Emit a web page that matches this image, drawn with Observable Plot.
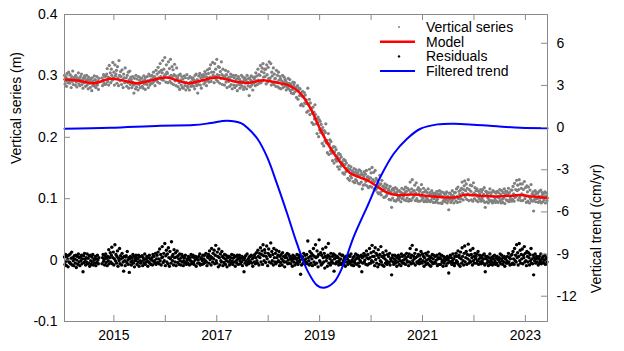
<!DOCTYPE html>
<html><head><meta charset="utf-8">
<script src="https://cdn.jsdelivr.net/npm/d3@7"></script>
<script src="https://cdn.jsdelivr.net/npm/@observablehq/plot@0.6"></script>
<style>
body{margin:0;background:#fff;}
#wrap{position:relative;width:624px;height:351px;font-family:"Liberation Sans",Arial,Helvetica,sans-serif;}
</style></head><body><div id="wrap"></div>
<script>
// ---- data ----
const seriesStart = 2014.04;   // decimal year of first sample
const seriesStep = 0.01;       // years between samples
// Vertical series (mm)
const verticalSeries = [
301,287,298,292,283,304,295,289,306,291,
288,302,295,281,299,291,308,286,296,293,
298,285,301,290,282,297,293,305,287,295,
284,299,291,303,286,294,280,297,289,300,
296,283,292,301,285,294,279,298,288,293,
281,295,289,276,297,284,292,287,300,283,
294,281,290,299,285,292,278,296,null,null,
null,null,null,297,284,293,302,288,299,286,
300,287,303,312,291,298,285,317,296,305,
289,311,301,293,322,297,306,285,318,300,
303,309,288,315,297,284,325,301,292,307,
299,286,310,294,281,303,297,289,313,291,
297,283,301,289,306,280,294,308,286,298,
294,281,290,299,285,272,296,287,279,301,
282,295,288,277,299,286,293,281,297,289,
296,283,291,280,300,287,294,278,298,288,
286,299,292,281,303,290,285,300,294,288,
301,288,297,306,291,299,284,296,309,293,
303,290,314,297,306,288,320,299,309,294,
305,325,293,311,300,330,302,290,318,306,
304,289,323,298,312,291,327,301,288,315,
299,310,286,302,319,292,300,284,313,297,
296,282,301,289,278,303,293,285,299,281,
295,280,290,300,284,297,277,289,302,283,
281,296,287,277,299,290,283,297,285,294,
297,283,293,279,301,288,303,284,294,272,
286,300,291,304,285,297,280,301,293,298,
302,287,299,307,290,303,284,298,310,292,
304,290,312,298,318,291,306,297,322,301,
306,289,320,299,311,294,327,302,291,315,
301,314,288,307,296,323,302,286,311,298,
300,285,298,309,290,302,281,296,307,291,
298,283,294,303,286,299,279,292,301,285,
297,281,292,301,284,295,276,290,299,286,
295,280,292,286,301,283,290,298,278,293,
282,297,288,294,279,301,290,284,296,268,
297,282,293,300,285,291,277,298,288,295,
298,284,305,292,300,286,311,293,302,288,
301,317,289,307,313,292,320,298,305,311,
299,311,287,318,302,290,314,296,323,293,
297,320,285,306,300,289,313,286,303,295,
296,283,309,290,301,282,306,293,280,299,
295,279,292,286,301,281,290,298,283,294,
292,277,289,283,280,296,279,288,294,276,
287,272,283,278,290,271,285,289,274,281,
281,265,277,284,262,276,280,268,279,252,
272,254,267,275,251,266,273,256,269,255,
261,241,255,280,243,253,262,237,256,246,
247,224,239,249,221,241,230,253,237,222,
230,206,223,233,201,229,212,226,208,221,
212,190,216,205,186,211,194,208,222,191,
195,175,190,206,172,189,196,178,193,174,
182,162,177,185,158,176,184,164,180,161,
170,152,166,174,148,165,172,153,168,157,
160,142,156,164,140,155,162,144,158,147,
150,133,146,154,130,148,137,152,134,145,
145,128,141,149,126,143,131,147,129,140,
143,125,139,147,124,138,145,127,141,116,
139,122,136,144,123,140,128,146,121,135,
136,118,132,148,120,134,142,119,151,130,
131,143,116,128,146,114,133,117,130,110,
126,108,122,138,110,124,106,130,113,120,
120,102,116,124,103,118,105,122,109,114,
116,99,112,120,98,111,86,115,101,117,
114,97,110,118,96,109,116,99,112,103,
98,113,102,111,95,110,117,100,108,104,
115,98,110,119,97,112,101,117,106,96,
114,99,127,110,97,116,131,101,112,104,
113,122,97,109,126,100,115,96,118,107,
112,96,115,104,123,98,110,101,117,95,
111,97,113,102,95,110,99,116,105,96,
110,95,107,98,113,102,109,94,106,100,
109,94,106,96,112,99,108,93,104,113,
108,93,105,111,92,103,96,110,98,107,
95,108,99,111,93,104,97,82,109,100,
109,94,106,97,113,99,105,93,110,101,
110,96,116,104,94,119,100,112,107,95,
114,100,117,127,109,98,115,121,129,103,
113,124,99,117,108,131,97,115,106,122,
112,98,121,106,96,126,109,100,118,107,
113,97,116,104,95,112,101,108,99,115,
96,111,101,115,97,107,118,94,86,112,
112,95,108,101,93,110,98,116,96,106,
110,97,93,113,104,96,111,100,94,109,
96,112,103,94,110,101,115,97,107,93,
113,99,94,110,101,116,92,107,112,98,
112,97,108,117,95,110,99,103,114,96,
114,99,120,108,96,125,102,115,104,130,
113,122,98,115,131,102,124,97,117,108,
124,97,115,106,128,100,118,104,94,121,
111,96,119,103,93,114,100,123,97,108,
96,111,80,106,99,113,95,108,110,100,
109,94,104,112,96,101,114,93,105,110,
95,108,98,103,111,93,104,109,97
];
// Residuals (mm)
const residuals = [
5,-7,9,-2,-9,6,1,-11,8,-3,
-4,10,-6,3,13,-8,4,-1,-9,7,
2,-5,8,-12,0,6,-7,10,-3,4,
-9,5,-1,8,-6,2,-19,7,-4,11,
1,-8,4,-3,10,-6,3,-5,7,-10,
8,-1,-7,5,-3,9,-8,2,0,-5,
6,-9,2,-4,8,0,-6,4,null,null,
null,null,null,-6,4,9,-2,1,-8,6,
10,-4,3,-9,6,-1,17,-6,4,12,
-3,8,21,-6,4,13,-8,2,25,-1,
9,-5,6,15,-10,3,-1,19,-6,7,
2,-8,11,4,-3,-18,6,-1,-9,5,
7,-4,14,0,-7,4,-20,2,6,-3,
-8,4,-1,9,-5,6,-11,2,-1,8,
4,-7,2,-3,8,-10,5,-1,-5,6,
-2,7,-9,4,0,-5,10,-7,2,-3,
6,-1,-10,4,-3,8,-5,2,-7,0,
4,-8,9,-2,6,-1,-5,11,-7,2,
8,-4,13,2,-6,18,-1,9,-8,4,
22,5,-4,11,-1,27,-9,7,16,-3,
10,-6,20,4,-10,14,2,-5,30,6,
-1,9,-8,17,4,-3,12,-9,5,15,
-4,7,2,-7,10,-1,-8,4,9,-3,
6,-9,-1,4,-5,8,-3,-7,2,0,
-5,6,2,-8,4,-1,9,-6,-3,5,
8,-3,-7,4,0,6,-10,2,4,-5,
0,6,-5,10,-8,2,4,-7,-1,8,
-6,2,8,-4,-1,11,-3,-9,6,4,
9,-5,15,1,6,-8,19,4,-3,11,
2,16,-6,8,24,-1,-5,13,6,-11,
18,4,-8,10,-1,-3,14,6,-9,4,
-4,9,2,-7,8,-1,-11,4,6,-3,
6,-8,0,4,-5,9,-2,-7,3,8,
-3,5,-10,6,-1,-5,8,2,-7,4,
8,-1,-6,3,-3,6,-9,4,0,-19,
4,-5,7,-1,-8,10,-3,2,-6,5,
-1,6,-3,8,-5,2,-10,4,7,-3,
9,-6,4,12,-1,-5,16,6,-8,11,
4,20,-3,9,15,-7,25,7,-1,17,
12,-4,6,23,2,-9,11,18,-3,8,
6,28,-5,14,-1,9,-8,19,4,-3,
11,-6,16,4,-3,8,-1,14,-9,6,
-4,9,2,-8,12,-1,6,-3,-11,4,
8,-3,4,11,-6,0,9,-5,6,2,
-6,4,-1,-10,8,2,-3,6,-8,4,
2,-5,9,-1,-7,4,8,-3,0,-23,
6,-8,2,5,-5,11,-1,-6,8,2,
-3,9,-6,31,4,-1,-8,14,6,-5,
11,2,-9,8,19,-3,6,-7,25,4,
-5,15,6,-11,9,33,-1,-3,12,-8,
8,-6,18,4,-3,11,-13,6,21,-1,
4,-10,8,27,-5,6,2,-8,11,-3,
-1,6,-5,10,-18,2,8,-6,4,-3,
6,-3,4,-8,-1,10,-5,2,-7,8,
-5,8,-1,-7,4,2,-10,6,-3,5,
2,-7,8,-1,-5,6,-3,10,-8,0,
-3,4,-9,6,-1,-5,10,2,-7,4,
8,-5,2,-10,6,-1,-3,8,-19,4,
-5,6,11,-3,0,8,-7,15,4,-8,
9,2,-6,19,4,-5,12,-1,24,6,
-3,14,6,-9,20,1,11,-5,8,-11,
17,4,-7,9,-1,22,-3,6,-8,12,
4,-10,8,2,-5,15,-1,-7,9,-3,
6,-4,11,-8,2,-1,-24,4,8,-3,
-7,2,8,-5,-1,6,-10,4,-3,8,
2,-7,5,-1,-9,10,-3,6,-5,0,
-5,8,2,-7,4,11,-1,-3,6,-9,
10,-3,19,4,-6,8,24,-1,-5,6,
2,11,-8,4,17,-3,6,-5,9,-1,
-6,8,2,14,-3,-5,10,-1,6,-10,
4,-3,11,-7,0,8,-5,13,2,-8,
6,-1,-10,4,-3,9,-6,2,8,-5,
-3,6,-5,0,8,-9,4,2,-7,10,
4,-7,2,8,-3,-1,-10,6,-5,2,
-1,4,-9,2,6,-5,0,-21,4,-3,
8,-3,4,-7,-1,10,-5,2,-9,6,
-5,11,-1,6,-3,15,-7,8,4,-10,
13,2,-5,20,6,-1,-8,11,23,-3,
4,14,-7,9,2,26,-5,8,-1,16,
-3,9,4,-8,19,-1,6,-5,11,2,
6,-5,10,-1,14,-7,2,8,-3,4,
-6,4,-1,8,-5,2,10,-8,-19,6,
2,-5,6,-1,-9,4,-3,10,-7,0,
4,-3,-8,6,2,-5,8,-1,-7,4,
-5,6,2,-9,0,4,-3,10,-6,2,
8,-1,-7,4,-3,6,-10,2,4,-5,
-1,6,-5,11,-3,4,-8,2,8,-7,
9,-5,14,2,-7,19,-1,8,-3,25,
4,12,-8,6,27,-1,16,-5,9,2,
18,-6,8,4,22,-3,11,-1,-9,14,
6,-3,12,4,-8,9,-1,19,-5,2,
-6,8,-24,4,-1,10,-5,2,6,-3,
4,-8,2,6,-5,-1,10,-6,2,4,
-3,6,-5,0,8,-7,2,4,-3
];
// Model (m)
const modelYears = [2014.04,2014.30,2014.61,2014.93,2015.19,2015.45,2015.71,2016.03,2016.22,2016.45,2016.70,2017.00,2017.20,2017.40,2017.65,2017.91,2018.17,2018.39,2018.62,2018.82,2019.01,2019.21,2019.40,2019.59,2019.79,2019.94,2020.11,2020.31,2020.50,2020.82,2021.15,2021.47,2021.69,2021.81,2022.12,2022.44,2022.76,2022.89,2023.15,2023.43];
const modelValues = [0.2943,0.2925,0.2880,0.2953,0.2923,0.2880,0.2925,0.2972,0.2930,0.2880,0.2925,0.2972,0.2940,0.2900,0.2890,0.2930,0.2888,0.2850,0.2720,0.2476,0.2134,0.1824,0.1596,0.1417,0.1344,0.1295,0.1205,0.1099,0.1059,0.1070,0.1042,0.1021,0.1026,0.1063,0.1050,0.1037,0.1050,0.1059,0.1034,0.1010];
// Filtered trend (cm/yr)
const trendYears = [2014.04,2014.93,2015.91,2016.55,2016.88,2017.20,2017.48,2017.59,2017.79,2017.98,2018.17,2018.37,2018.56,2018.76,2018.95,2019.08,2019.28,2019.47,2019.66,2019.92,2020.18,2020.44,2020.70,2020.96,2021.29,2021.61,2022.00,2022.45,2022.90,2023.43];
const trendValues = [-0.08,-0.01,0.14,0.18,0.32,0.49,0.30,0.00,-0.79,-2.10,-3.99,-6.13,-8.26,-10.16,-11.23,-11.40,-11.00,-9.69,-7.79,-5.66,-3.52,-1.86,-0.79,-0.08,0.23,0.28,0.21,0.09,-0.01,-0.04];
// axes
const xDomain = [2014.04, 2023.43];
const leftDomain = [-0.1, 0.4];
const rightDomain = [-13.8, 8.05];
const leftTicks = [-0.1, 0, 0.1, 0.2, 0.3, 0.4];
const rightTicks = [-12, -9, -6, -3, 0, 3, 6];
const yearTicks = [2015, 2016, 2017, 2018, 2019, 2020, 2021, 2022, 2023];
const yearLabels = [2015, 2017, 2019, 2021, 2023];
const legendLabels = ["Vertical series", "Model", "Residuals", "Filtered trend"];
const leftTitle = "Vertical series (m)";
const rightTitle = "Vertical trend (cm/yr)";

// ---- build ----
const toLeft = r => leftDomain[0] + (r - rightDomain[0]) / (rightDomain[1] - rightDomain[0]) * (leftDomain[1] - leftDomain[0]);
const toRight = v => rightDomain[0] + (v - leftDomain[0]) / (leftDomain[1] - leftDomain[0]) * (rightDomain[1] - rightDomain[0]);
const seriesData = verticalSeries.map((v, i) => ({t: seriesStart + i * seriesStep, v: v == null ? NaN : v / 1000}));
const residData = residuals.map((v, i) => ({t: seriesStart + i * seriesStep, v: v == null ? NaN : v / 1000}));
const modelData = modelYears.map((t, i) => ({t, v: modelValues[i]}));
const trendData = trendYears.map((t, i) => ({t, v: toLeft(trendValues[i])}));

const W = 624, H = 351, mL = 64, mR = 77, mT = 14, mB = 30;
const innerW = W - mL - mR, innerH = H - mT - mB;
const frameColor = "#8a8a8a";
const font = '"Liberation Sans", Arial, Helvetica, sans-serif';
const fmtLeft = d => d === 0 ? "0" : (d < 0 ? "-" : "") + Math.abs(d).toFixed(1);
const fmtRight = v => { const r = Math.round(toRight(v)); return (r < 0 ? "-" : "") + Math.abs(r); };

const chart = Plot.plot({
  width: W, height: H,
  marginLeft: mL, marginRight: mR, marginTop: mT, marginBottom: mB,
  style: {fontFamily: font, fontSize: "14px", color: "#000", background: "#fff", overflow: "visible"},
  x: {domain: xDomain},
  y: {domain: leftDomain},
  marks: [
    Plot.dot(seriesData, {x: "t", y: "v", r: 1.6, fill: "#808080", stroke: null}),
    Plot.dot(residData, {x: "t", y: "v", r: 1.7, fill: "#000", stroke: null}),
    Plot.line(modelData, {x: "t", y: "v", stroke: "#ff0000", strokeWidth: 2.5, curve: "catmull-rom"}),
    Plot.line(trendData, {x: "t", y: "v", stroke: "#0000ff", strokeWidth: 2, curve: "catmull-rom"}),
    Plot.frame({stroke: frameColor}),
    Plot.tickY(leftTicks, {y: d => d, stroke: frameColor, insetRight: innerW - 6}),
    Plot.tickY(rightTicks.map(toLeft), {y: d => d, stroke: frameColor, insetLeft: innerW - 6}),
    Plot.tickX(yearTicks, {x: d => d, stroke: frameColor, insetTop: innerH - 6}),
    Plot.tickX(yearTicks, {x: d => d, stroke: frameColor, insetBottom: innerH - 6}),
    Plot.axisY(leftTicks, {anchor: "left", tickSize: 0, tickPadding: 7, tickFormat: fmtLeft, label: null, fontSize: 14}),
    Plot.axisY(rightTicks.map(toLeft), {anchor: "right", tickSize: 0, tickPadding: 9, tickFormat: fmtRight, label: null, fontSize: 14}),
    Plot.axisX(yearLabels, {anchor: "bottom", tickSize: 0, tickPadding: 9, tickFormat: d => String(d), label: null, fontSize: 14}),
    Plot.text([leftTitle], {frameAnchor: "left", rotate: -90, dx: -48, dy: -4, fontSize: 14}),
    Plot.text([rightTitle], {frameAnchor: "right", rotate: -90, dx: 49, dy: -4, fontSize: 14})
  ]
});
const wrap = document.getElementById("wrap");
wrap.appendChild(chart);

// legend overlay
const leg = d3.select(wrap).append("svg")
  .attr("width", W).attr("height", H)
  .style("position", "absolute").style("left", 0).style("top", 0).style("pointer-events", "none")
  .style("font-family", font).style("font-size", "14px");
const legKinds = ["dot", "line", "dot", "line"];
const legColors = ["#808080", "#ff0000", "#000", "#0000ff"];
legendLabels.forEach((lab, i) => {
  const cy = 27 + i * 14.7;
  if (legKinds[i] === "line") {
    leg.append("line").attr("x1", 380).attr("x2", 415).attr("y1", cy).attr("y2", cy)
      .attr("stroke", legColors[i]).attr("stroke-width", i === 1 ? 2.5 : 2);
  } else {
    leg.append("circle").attr("cx", 399).attr("cy", cy).attr("r", i === 0 ? 1 : 1.2).attr("fill", legColors[i]);
  }
  leg.append("text").attr("x", 426).attr("y", cy + 5).attr("fill", "#000").text(lab);
});
</script></body></html>
